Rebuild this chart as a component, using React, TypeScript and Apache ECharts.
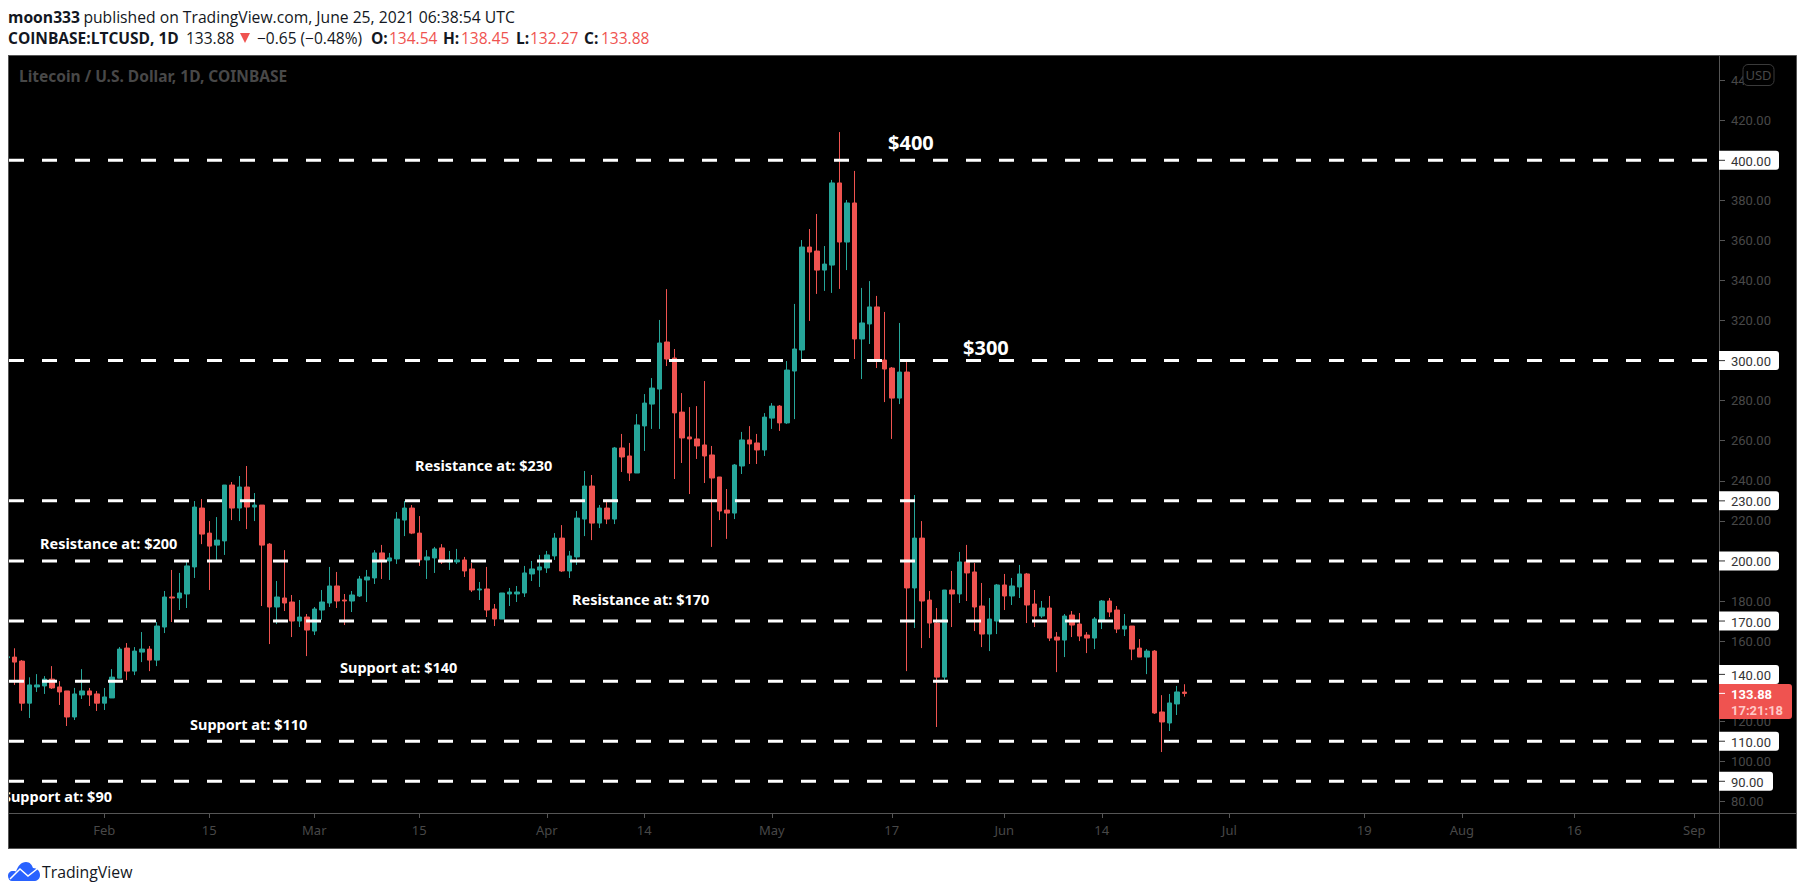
import React, { useEffect, useRef } from "react";
import * as echarts from "echarts";

// Day offsets are counted from 1 Feb 2021; the first candle is 19 Jan 2021.
const firstDay = -13;

const opens = [
  151.7,152.0,150.0,129.0,137.1,137.6,141.0,137.1,135.1,122.1,
  133.1,135.1,133.6,129.0,131.6,141.5,156.5,145.0,154.5,156.0,
  150.5,167.0,182.0,181.5,183.5,197.0,226.4,213.9,207.9,210.0,
  237.9,226.4,236.9,226.9,227.9,208.4,177.0,181.5,179.5,170.0,
  172,165,175.5,179,187.5,180.5,180,182.5,190.5,191.5,
  204,200,201,220.4,226.4,213.9,200.5,201.5,206.5,199.5,
  199.5,200.5,196,185.5,186,176,171,183.5,183.5,184,
  193.5,195.5,196.5,202.5,211.4,195,202,220.9,237.4,218.9,
  226.4,220.9,256.4,252.4,243.9,267.4,278.3,285.8,309.3,301.3,
  274.3,261.9,260.9,257.9,252.9,241.9,225.4,223.9,247.4,260.4,
  258.9,255.4,271.3,277.3,268.9,294.8,305.3,356.7,354.7,345.2,
  347.7,388.7,359.2,378.7,310.8,318.3,326.8,300.3,296.3,281.3,
  294.3,186.5,211.4,180.5,169,142,185.5,183.5,199.5,194.5,
  177.5,163.5,170,188,182.5,187,193.5,178.5,172.5,176.5,
  162,160.5,173,168.5,163,161.5,170.5,180,175.5,166,
  167.5,156.5,152,155,124.6,119.1,128.6,134.54,
];
const closes = [
  152.2,149.5,129.0,138.1,138.1,141.0,136.6,134.6,122.1,133.6,
  135.1,133.1,129.0,132.1,142.0,156.0,145.0,155.0,156.0,150.5,
  167.5,182.0,181.5,184.0,197.5,226.9,213.4,207.4,210.4,237.9,
  226.4,236.9,226.9,227.9,207.9,177.0,182.0,179.0,170.0,172.0,
  165.5,176,179.5,187.5,180,180,183,191,192,204,
  200.5,201.5,220.9,226.4,213.9,200.5,202,206,199.5,200.5,
  200.5,195,185.5,186,175.5,171,184,184.5,184.5,194,
  196,197,203,211.4,195,202.5,221.4,237.4,218.9,226.4,
  220.9,256.4,251.9,243.9,267.9,278.8,286.3,308.8,300.8,273.9,
  261.4,260.9,257.4,252.4,241.4,224.9,223.9,247.9,260.4,258.4,
  255.4,271.8,277.3,268.9,295.3,305.8,356.7,354.2,345.2,348.2,
  388.7,359.2,378.7,310.8,318.8,326.8,300.3,295.8,281.3,294.3,
  186.5,211.4,180,169,142,185.5,183.5,199.5,194,177,
  163.5,171,188,182.5,187.5,193.5,178,172.5,176.5,161.5,
  160.5,172.5,168,162.5,161.5,171,180,174.5,166,167.5,
  156,152,155,124.1,119.6,129.1,134.6,133.88,
];
const lows = [
  151.0,138.1,125.2,121.6,134.6,133.6,136.1,128.1,117.6,120.6,
  131.1,127.6,125.1,125.6,131.6,141.5,140.5,143.0,149.5,145.0,
  147.5,164.0,169.5,175.5,176.5,191.5,208.4,185.5,200.5,203.0,
  220.4,219.9,215.9,219.9,177.5,158.5,168.5,175.0,162.0,167.0,
  152.5,163,170.5,177,176.5,168,174.5,182,179.5,188.5,
  191,190.5,198.5,212.4,213.4,197.5,191,194,198.5,195.5,
  198.5,192,184.5,180.5,172,167.5,171,177.5,179.5,182,
  190,187,194,200.5,194.5,191.5,198,212.4,210.4,216.4,
  218.4,218.4,244.4,239.9,243.9,254.9,265.9,265.9,297.3,240.9,
  248.9,233.4,250.9,238.9,207,220.4,211,220.9,243.4,248.4,
  248.4,252.4,265.9,264.9,268.4,270.8,300.8,319.8,333.3,334.8,
  333.8,335.8,345.2,300.8,290.8,308.3,296.3,279.3,260.9,278.3,
  145,166.5,156.5,161.5,117.1,140.5,167,179,180,165,
  157,155,163.5,175.5,178,181.5,169,167,171.5,160,
  144.5,152,162,160,154,156,166,172,164,162.5,
  150.5,152,143.5,123.6,104.6,115.1,123.1,132.27,
];
const highs = [
  153.0,156.4,150.5,141.9,143.5,142.5,147.5,140.0,135.1,136.6,
  146.0,136.6,135.1,136.6,146.0,157.0,159.0,157.0,164.5,157.5,
  169.5,185.0,195.5,194.0,199.5,229.9,230.9,219.9,221.9,237.9,
  239.4,242.4,247.4,233.9,227.9,208.9,190.0,205.4,183.0,180.5,
  173.5,177,185.5,197,194.5,183.5,185,192.5,195.5,205.4,
  208,204,224.4,229.9,227.9,222.4,205.4,207,208.4,205,
  206,202,199,189.5,197,178.5,184,186.5,187.5,197.5,
  200,203,205,213.9,217.9,205,224.9,244.9,242.9,227.9,
  229.4,256.9,263.4,258.9,273.3,283.3,291.3,320.3,335.7,305.8,
  283.8,276.8,277.3,289.8,257.4,241.9,235.9,248.4,264.4,267.3,
  263.4,273.8,278.8,277.8,299.8,328.3,360.2,365.7,373.2,357.2,
  390.2,414.1,380.2,394.7,336.3,339.7,332.3,324.3,296.8,318.8,
  299.3,232.9,219.9,185,176.5,185.5,195,204.5,208,199,
  189,181.5,188.5,193.5,191.5,198,194,185.5,180,182.5,
  164.5,173.5,175,174,164.5,172,180.5,181.5,177.5,173.5,
  167.5,161,156,155.5,133,133.6,137.6,138.45,
];

const levels = [400, 300, 230, 200, 170, 140, 110, 90];
const priceTicks = [80, 100, 120, 160, 180, 220, 240, 260, 280, 320, 340, 360, 380, 420, 440];
const lastPrice = 133.88;
const countdown = "17:21:18";

const dateTickDays = [0, 14, 28, 42, 59, 72, 89, 105, 120, 133, 150, 168, 181, 196, 212];
const dateTickLabels = ["Feb", "15", "Mar", "15", "Apr", "14", "May", "17", "Jun", "14", "Jul", "19", "Aug", "16", "Sep"];

const notes: [string, number, number][] = [
  ["Resistance at: $200", 40, 542.5],
  ["Support at: $110", 190, 724],
  ["Resistance at: $230", 415, 464.5],
  ["Support at: $140", 340, 666.5],
  ["Resistance at: $170", 572, 598.5],
];

// text, left edge, weight/colour
const quoteLine: [string, number, "b" | "n" | "r"][] = [
  ["COINBASE:LTCUSD, 1D", 8, "b"],
  ["133.88", 186, "n"],
  ["−0.65 (−0.48%)", 257, "n"],
  ["O:", 371, "b"],
  ["134.54", 389, "r"],
  ["H:", 443, "b"],
  ["138.45", 461, "r"],
  ["L:", 516, "b"],
  ["132.27", 530, "r"],
  ["C:", 584, "b"],
  ["133.88", 601, "r"],
];

const UP = "#26a69a";
const DOWN = "#ef5350";
const FRAME = "#555555";
const DIM = "#484848";
const INK = "#131722";
const AXIS_FONT = "Roboto";
const NOTE_FONT = "'Noto Sans'";
const HEAD_FONT = "'Open Sans'";

const GRID = { left: 9, top: 56, right: 1719, bottom: 813 };
const X_MIN = -12.707;
const X_MAX = 215.293;
const Y_MIN = 74.17;
const Y_MAX = 452.07;

const LOGO =
  "M0 14 C0 11 2 9 5 9 C6 9 7 9 8 9.5 C10 4 13 0 18 0 C22 0 24 3 25 6 C29 6 32 9 32 13 C32 17 29 19 26 19 L4 19 C2 19 0 17 0 14 Z";
echarts.graphic.registerShape("logo", echarts.graphic.extendPath(LOGO as any, {}) as any);

export default function App() {
  const ref = useRef<HTMLDivElement>(null);
  useEffect(() => {
    document.body.style.margin = "0";
    const chart = echarts.init(ref.current!, undefined, { renderer: "svg" });
    const candles = opens.map((o, i) => [firstDay + i, o, closes[i], lows[i], highs[i]]);

    const tagItem = (params: any, api: any) => {
      const v = api.value(1);
      const p = api.coord([api.value(0), v]);
      const lastY = api.coord([api.value(0), lastPrice])[1];
      // a tag that would run into the last-price tag sits right on top of it
      const y = v > lastPrice && p[1] > lastY - 19 ? lastY - 19 : p[1];
      const text = v.toFixed(2);
      return {
        type: "group",
        children: [
          { type: "rect", shape: { x: p[0], y: y - 9.5, width: text.length > 5 ? 60 : 54, height: 19, r: [0, 3, 3, 0] }, style: { fill: "#ffffff" } },
          { type: "line", shape: { x1: p[0], y1: y, x2: p[0] + 6, y2: y }, style: { stroke: "#333333", lineWidth: 1 } },
          { type: "text", style: { x: p[0] + 12, y: y + 1, text, fill: "#333333", font: `13px ${AXIS_FONT}`, verticalAlign: "middle", align: "left" } },
        ],
      };
    };
    const lastItem = (params: any, api: any) => {
      const v = api.value(1);
      const p = api.coord([api.value(0), v]);
      return {
        type: "group",
        children: [
          { type: "rect", shape: { x: p[0], y: p[1] - 9.5, width: 73, height: 35, r: [0, 3, 3, 0] }, style: { fill: DOWN } },
          { type: "line", shape: { x1: p[0], y1: p[1], x2: p[0] + 6, y2: p[1] }, style: { stroke: "#ffffff", lineWidth: 1 } },
          { type: "text", style: { x: p[0] + 12, y: p[1] + 1, text: v.toFixed(2), fill: "#ffffff", font: `bold 13px ${AXIS_FONT}`, verticalAlign: "middle", align: "left" } },
          { type: "text", style: { x: p[0] + 12, y: p[1] + 17, text: countdown, fill: "#ffc9c7", font: `bold 13px ${AXIS_FONT}`, verticalAlign: "middle", align: "left" } },
        ],
      };
    };

    chart.setOption({
      animation: false,
      backgroundColor: "#ffffff",
      tooltip: { show: false },
      grid: { left: GRID.left, top: GRID.top, width: GRID.right - GRID.left, height: GRID.bottom - GRID.top, containLabel: false },
      xAxis: {
        type: "value",
        min: X_MIN,
        max: X_MAX,
        splitLine: { show: false },
        axisLine: { show: true, onZero: false, lineStyle: { color: FRAME, width: 1 } },
        axisTick: { show: true, length: 5, customValues: dateTickDays, lineStyle: { color: FRAME } },
        axisLabel: {
          customValues: dateTickDays,
          color: DIM,
          fontFamily: NOTE_FONT,
          fontSize: 13,
          margin: 10,
          formatter: (v: number) => dateTickLabels[dateTickDays.indexOf(v)] ?? "",
        },
      },
      yAxis: {
        type: "value",
        position: "right",
        min: Y_MIN,
        max: Y_MAX,
        scale: true,
        splitLine: { show: false },
        axisLine: { show: true, onZero: false, lineStyle: { color: FRAME, width: 1 } },
        axisTick: { show: true, length: 6, customValues: priceTicks, lineStyle: { color: FRAME } },
        axisLabel: {
          customValues: priceTicks,
          color: DIM,
          fontFamily: AXIS_FONT,
          fontSize: 13,
          margin: 12,
          formatter: (v: number) => v.toFixed(2),
        },
      },
      series: [
        {
          type: "candlestick",
          data: candles,
          barWidth: 5,
          clip: true,
          z: 2,
          silent: true,
          itemStyle: { color: UP, color0: DOWN, borderColor: UP, borderColor0: DOWN, borderWidth: 1 },
        },
        ...levels.map((lv) => ({
          type: "line",
          data: [[X_MIN, lv], [X_MAX, lv]],
          symbol: "none",
          silent: true,
          z: 3,
          lineStyle: { color: "#ffffff", width: 3, type: [15, 18] },
        })),
        {
          type: "custom",
          data: levels.map((lv) => [X_MAX, lv]),
          renderItem: tagItem,
          encode: { x: 0, y: 1 },
          clip: false,
          silent: true,
          z: 5,
        },
        {
          type: "custom",
          data: [[X_MAX, lastPrice]],
          renderItem: lastItem,
          encode: { x: 0, y: 1 },
          clip: false,
          silent: true,
          z: 6,
        },
      ],
      graphic: {
        elements: [
          { type: "rect", z: -10, shape: { x: 8.5, y: 55.5, width: 1788, height: 793 }, style: { fill: "#000000", stroke: FRAME, lineWidth: 1 } },
          { type: "line", z: 1, shape: { x1: 1719.5, y1: 813, x2: 1719.5, y2: 849 }, style: { stroke: FRAME, lineWidth: 1 } },
          { type: "line", z: 1, shape: { x1: 1719, y1: 813.5, x2: 1797, y2: 813.5 }, style: { stroke: FRAME, lineWidth: 1 } },
          { type: "text", z: 10, style: { x: 19, y: 76, text: "Litecoin / U.S. Dollar, 1D, COINBASE", fill: DIM, font: `bold 15.5px ${NOTE_FONT}`, verticalAlign: "middle" } },
          ...notes.map(([text, x, y]) => ({
            type: "text",
            z: 10,
            style: { x, y, text, fill: "#ffffff", font: `bold 14.5px ${NOTE_FONT}`, verticalAlign: "middle" },
          })),
          { type: "text", z: 10, style: { x: 112, y: 795.5, text: "Support at: $90", fill: "#ffffff", font: `bold 14.5px ${NOTE_FONT}`, verticalAlign: "middle", align: "right" } },
          { type: "text", z: 10, style: { x: 888, y: 142, text: "$400", fill: "#ffffff", font: `bold 20px ${NOTE_FONT}`, verticalAlign: "middle" } },
          { type: "text", z: 10, style: { x: 963, y: 347, text: "$300", fill: "#ffffff", font: `bold 20px ${NOTE_FONT}`, verticalAlign: "middle" } },
          { type: "rect", z: 20, shape: { x: 0, y: 55, width: 8, height: 794 }, style: { fill: "#ffffff" } },
          { type: "line", z: 21, shape: { x1: 8.5, y1: 55, x2: 8.5, y2: 849 }, style: { stroke: FRAME, lineWidth: 1 } },
          { type: "rect", z: 20, shape: { x: 1743, y: 64.5, width: 31, height: 21, r: 5 }, style: { fill: "#000000", stroke: "#3a3a3a", lineWidth: 1 } },
          { type: "text", z: 21, style: { x: 1758.5, y: 75, text: "USD", fill: DIM, font: `13px ${NOTE_FONT}`, verticalAlign: "middle", align: "center" } },
          {
            type: "text",
            z: 10,
            style: {
              x: 8,
              y: 17,
              text: "{b|moon333} {n|published on TradingView.com, June 25, 2021 06:38:54 UTC}",
              verticalAlign: "middle",
              rich: {
                b: { fontFamily: "Open Sans", fontWeight: "bold", fontSize: 15.7, fill: INK },
                n: { fontFamily: "Open Sans", fontSize: 15.7, fill: INK },
              },
            },
          },
          ...quoteLine.map(([text, x, kind]) => ({
            type: "text",
            z: 10,
            style: {
              x,
              y: 38,
              text,
              verticalAlign: "middle",
              fill: kind === "r" ? DOWN : INK,
              font: `${kind === "b" ? "bold " : ""}15.5px ${HEAD_FONT}`,
            },
          })),
          { type: "polygon", z: 10, shape: { points: [[240, 33], [250, 33], [245, 43]] }, style: { fill: DOWN } },
          { type: "logo", z: 10, x: 8, y: 862, style: { fill: "#2962ff" } },
          { type: "polyline", z: 11, shape: { points: [[10, 879], [20, 869], [28, 876], [37, 869]] }, style: { stroke: "#ffffff", fill: "none", lineWidth: 1.5 } },
          { type: "text", z: 10, style: { x: 42, y: 871.5, text: "TradingView", fill: INK, font: `15.8px ${HEAD_FONT}`, verticalAlign: "middle" } },
        ],
      },
    });
    return () => chart.dispose();
  }, []);
  return <div ref={ref} style={{ position: "absolute", left: 0, top: 0, width: 1805, height: 895 }} />;
}
